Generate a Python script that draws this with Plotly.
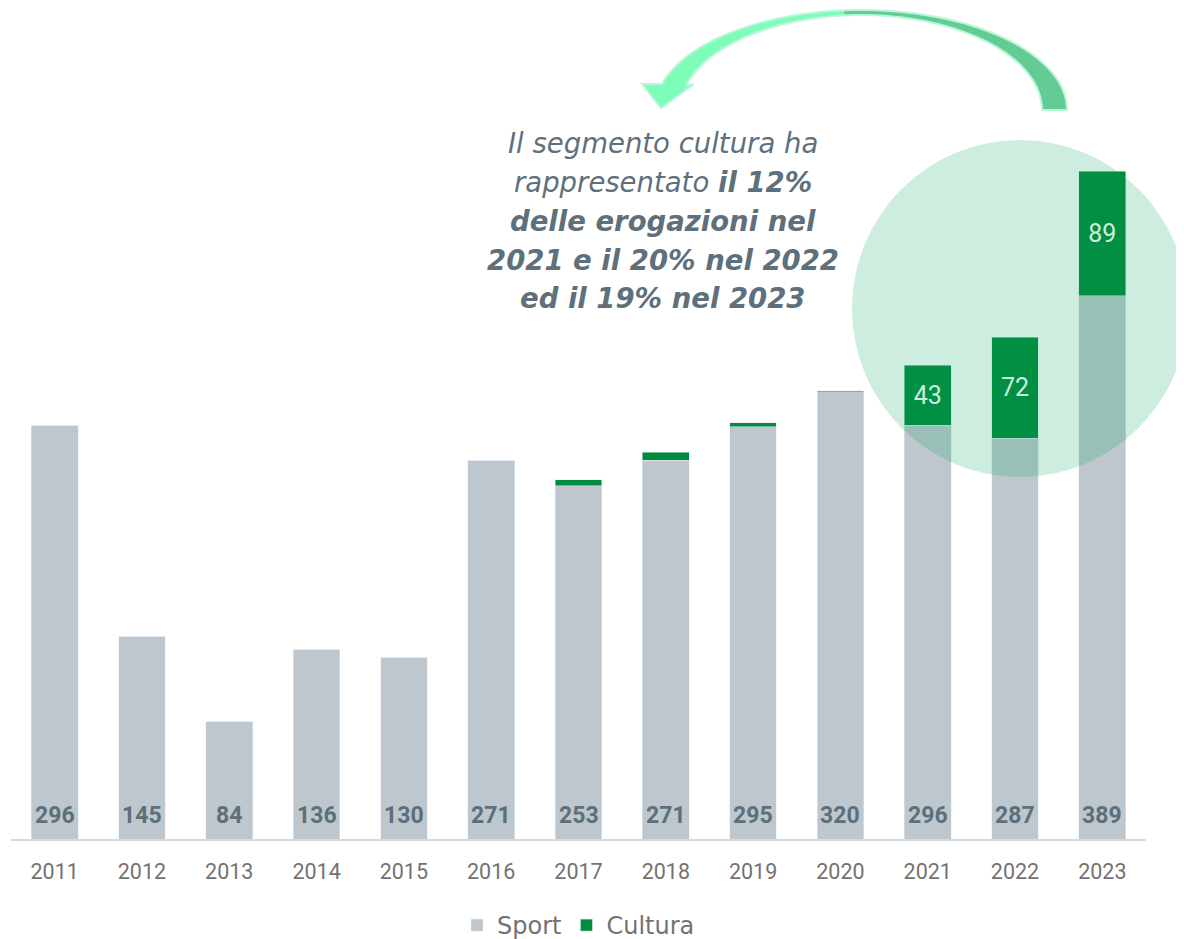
import numpy as np
import plotly.graph_objects as go

years = ["2011", "2012", "2013", "2014", "2015", "2016", "2017",
         "2018", "2019", "2020", "2021", "2022", "2023"]
sport = [296, 145, 84, 136, 130, 271, 253, 271, 295, 320, 296, 287, 389]
cultura = [0, 0, 0, 0, 0, 0, 4, 6, 3, 1, 43, 72, 89]
cultura_labels = ["", "", "", "", "", "", "", "", "", "", "43", "72", "89"]
note_lines = [
    "<i>Il segmento cultura ha</i>",
    "<i>rappresentato <b>il 12%</b></i>",
    "<b><i>delle erogazioni nel</i></b>",
    "<b><i>2021 e il 20% nel 2022</i></b>",
    "<b><i>ed il 19% nel 2023</i></b>",
]

GRAY = "#BDC7CD"
GREEN = "#008B3E"

OFF = 8  # page body margin
W, H = 1184 - OFF, 939 - OFF
ML, MT = 11 - OFF, 20 - OFF
PW, PH = 1135, 819
MR = W - ML - PW
MB = H - MT - PH
BOTTOM_PAGE = MT + PH + OFF  # page y of axis


def P(px, py):
    """page pixel -> paper coords"""
    return ((px - OFF - ML) / PW, (BOTTOM_PAGE - py) / PH)


fig = go.Figure()
fig.add_trace(go.Bar(
    x=years, y=sport, name="Sport", marker_color=GRAY, hoverinfo="skip",
))
fig.add_trace(go.Bar(
    x=years, y=cultura, name="Cultura", marker_color=GREEN,
    text=cultura_labels, textposition="inside",
    insidetextanchor="middle", textangle=0,
    insidetextfont=dict(family="Roboto", size=25, color="#FFFFFF"),
    hoverinfo="skip",
))

annotations = []
for i, v in enumerate(sport):
    annotations.append(dict(x=i, y=0, xref="x", yref="y", text=str(v),
                            showarrow=False, yanchor="middle", yshift=24,
                            font=dict(family="Roboto", size=23, color="#5C6F7A",
                                      weight="bold")))

shapes = []
# translucent circle
cx0, cy0 = P(852, 140)
cx1, cy1 = P(1188, 477)
shapes.append(dict(type="circle", xref="paper", yref="paper",
                   x0=cx0, x1=cx1, y0=cy1, y1=cy0,
                   fillcolor="rgba(5,165,90,0.2)", line=dict(width=0),
                   layer="above"))

# curved arrow
ecx, ecy = 861, 110
orx, ory = 206, 100
irx, iry = 181, 95


def outer(t):
    return (ecx + orx * np.cos(t), ecy - ory * np.sin(t))


def inner(t):
    return (ecx + irx * np.cos(t), ecy - iry * np.sin(t))


def path_str(pts):
    s = ""
    for i, (px, py) in enumerate(pts):
        x, y = P(px, py)
        s += ("M" if i == 0 else "L") + f"{x:.5f},{y:.5f} "
    return s + "Z"


tend = np.deg2rad(165)
tmid = np.deg2rad(95)
ts = np.linspace(0, tmid, 40)
pts_r = [outer(t) for t in ts] + [inner(t) for t in ts[::-1]]
ts2 = np.linspace(tmid, tend, 40)
head = [(642, 84), (661, 108), (694, 84)]
pts_l = [outer(t) for t in ts2] + head + [inner(t) for t in ts2[::-1]]
pts_all = [outer(t) for t in np.linspace(0, tend, 80)] + head + \
          [inner(t) for t in np.linspace(tend, 0, 80)]

shapes.append(dict(type="path", xref="paper", yref="paper", path=path_str(pts_r),
                   fillcolor="#62CC94", line=dict(width=0), layer="above"))
shapes.append(dict(type="path", xref="paper", yref="paper", path=path_str(pts_l),
                   fillcolor="#7DFCBA", line=dict(width=0), layer="above"))
shapes.append(dict(type="path", xref="paper", yref="paper", path=path_str(pts_all),
                   fillcolor="rgba(0,0,0,0)", line=dict(width=2, color="#B8F7D8"),
                   layer="above"))

line_y = [143, 182, 221, 260, 298]
for txt, ly in zip(note_lines, line_y):
    tx, ty = P(663, ly)
    annotations.append(dict(x=tx, y=ty, xref="paper", yref="paper", text=txt,
                            showarrow=False, xanchor="center", yanchor="middle",
                            font=dict(family="DejaVu Sans", size=27.5,
                                      color="#5E707B")))

fig.update_layout(
    width=W, height=H,
    margin=dict(l=ML, r=MR, t=MT, b=MB, autoexpand=False),
    paper_bgcolor="white", plot_bgcolor="white",
    barmode="stack", bargap=0.465,
    uniformtext=dict(minsize=25, mode="show"),
    xaxis=dict(type="category", range=[-0.5, len(years) - 0.5], showgrid=False,
               showline=True, linecolor="#D9D9D9", linewidth=2,
               ticks="", tickfont=dict(family="Roboto", size=21.5, color="#767171"),
               ticklabelstandoff=12),
    yaxis=dict(range=[0, PH / 1.397], visible=False),
    showlegend=True,
    legend=dict(orientation="h", x=0.5, xanchor="center", y=-(MB + 9) / PH,
                yanchor="bottom", traceorder="normal",
                font=dict(family="DejaVu Sans", size=24, color="#767171")),
    shapes=shapes,
    annotations=annotations,
)

fig.write_html("out.html")
